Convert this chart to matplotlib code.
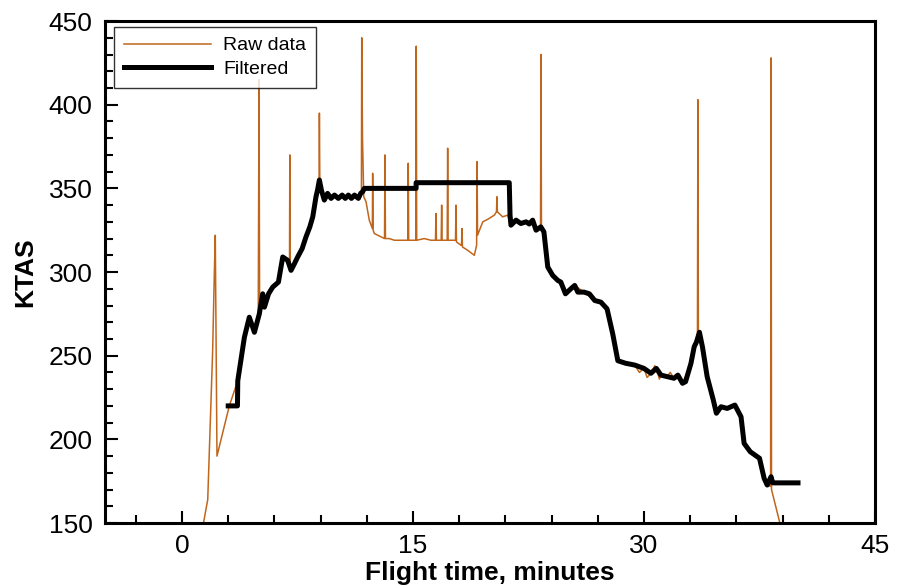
import numpy as np
import matplotlib
matplotlib.use("Agg")
import matplotlib.pyplot as plt
from matplotlib.ticker import MultipleLocator

plt.rcParams['font.family'] = ['Liberation Sans', 'DejaVu Sans']

# Raw airspeed record, spikes included (minutes, knots)
raw_t = [1.41, 1.67, 1.99, 2.10, 2.16, 2.22, 2.27, 3.07, 3.62, 4.05, 4.37, 4.70,
         4.95, 5.00, 5.04, 5.24, 5.35, 5.89, 6.26, 6.54, 6.86, 6.98, 7.00, 7.03,
         7.08, 7.51, 8.05, 8.49, 8.70, 8.90, 8.92, 8.95, 9.24, 9.68, 10.30, 10.97,
         11.40, 11.65, 11.67, 11.72, 11.80, 11.95, 12.16, 12.36, 12.38, 12.41, 12.49,
         12.92, 13.15, 13.18, 13.21, 13.46, 13.79, 14.66, 14.69, 14.72, 15.08, 15.18,
         15.21, 15.24, 15.73, 16.17, 16.46, 16.49, 16.52, 16.83, 16.86, 16.89, 17.22,
         17.25, 17.28, 17.68, 17.76, 17.79, 17.82, 18.12, 18.15, 18.18, 18.21, 18.55,
         18.98, 19.13, 19.16, 19.19, 19.53, 19.85, 20.28, 20.42, 20.45, 20.48, 20.82,
         21.15, 21.36, 21.69, 22.00, 22.34, 22.77, 22.99, 23.28, 23.31, 23.34, 23.50,
         23.75, 24.07, 24.40, 24.90, 25.25, 25.50, 26.10, 26.80, 27.20, 27.60, 27.97,
         28.30, 28.80, 29.40, 29.70, 30.00, 30.20, 30.45, 30.70, 30.80, 31.00, 31.10,
         31.50, 31.70, 31.95, 32.20, 32.50, 33.05, 33.26, 33.47, 33.50, 33.53, 33.60,
         33.80, 34.10, 34.50, 34.70, 35.00, 35.40, 35.90, 36.30, 36.50, 36.90, 37.50,
         37.80, 38.00, 38.22, 38.25, 38.28, 38.85, 39.00]
raw_v = [150.8, 164, 253, 300, 322, 250, 190, 220, 235, 261, 273, 264,
         272, 415, 275, 287, 279, 291, 294, 309, 307, 304, 370, 303,
         301, 309, 321, 333, 345, 354, 395, 352, 343, 346, 344, 345,
         344, 347, 440, 380, 345, 342, 331, 326, 359, 325, 323,
         321, 320, 370, 320, 320, 319, 319, 365, 319, 319, 319,
         435, 319, 320, 319, 319, 335, 319, 319, 340, 319, 319,
         374, 319, 319, 319, 340, 318, 316, 316, 326, 315, 313,
         310, 316, 366, 322, 330, 331.5, 334, 336, 345, 336, 333,
         334, 328, 331, 329, 330, 331, 325, 327, 430, 327, 324,
         303, 298, 295, 287, 290, 292, 288, 283, 282, 278, 263,
         247, 245.5, 244.4, 240, 242.4, 237, 239.5, 244, 242.4, 236, 238.4,
         237.5, 240, 236.5, 238.4, 233.5, 245.5, 255.4, 262, 403, 262, 262,
         255, 237.5, 223.5, 215.6, 219.5, 218.5, 220.5, 213.5, 197.6, 192.6, 188.7,
         176.7, 172.7, 172, 428, 170, 149, 140]

# Filtered airspeed
filt_t = [3.00, 3.60, 3.62, 4.05, 4.37, 4.70, 5.02, 5.24, 5.35, 5.62, 5.89, 6.26,
          6.54, 6.86, 7.08, 7.30, 7.51, 7.80, 8.05, 8.30, 8.49, 8.70, 8.80, 8.92,
          9.05, 9.24, 9.45, 9.68, 9.90, 10.15, 10.40, 10.60, 10.80, 11.00, 11.20,
          11.45, 11.60, 11.73, 11.84, 15.20, 15.20, 21.25, 21.30, 21.36, 21.69, 22.00,
          22.34, 22.55, 22.77, 22.99, 23.30, 23.50, 23.75, 24.07, 24.40, 24.60, 24.90,
          25.25, 25.50, 25.70, 26.10, 26.45, 26.80, 27.20, 27.60, 27.97, 28.30, 28.80,
          29.40, 30.00, 30.45, 30.80, 31.10, 31.50, 31.95, 32.20, 32.50, 32.70, 33.05,
          33.26, 33.40, 33.60, 33.80, 34.10, 34.50, 34.70, 35.00, 35.40, 35.90, 36.30,
          36.50, 36.90, 37.50, 37.80, 38.00, 38.25, 38.36, 40.00]
filt_v = [220, 220, 235, 261, 273, 264, 275, 287, 279, 287, 291, 294,
          309, 307, 301, 305, 309, 314, 321, 327, 333, 345, 349, 355,
          349, 343, 347, 344, 346, 344, 346, 344, 346, 344, 346,
          344, 347, 348, 350, 350, 353.4, 353.4, 334, 328, 331, 329,
          330, 328.7, 331, 325, 327, 324, 303, 298, 295, 294, 287,
          290, 292, 288, 288, 287, 283, 282, 278, 263, 247, 245.5,
          244.4, 242.4, 239.5, 242.4, 238.4, 237.5, 236.5, 238.4, 233.5, 234.5, 245.5,
          255.4, 258, 264, 255, 237.5, 223.5, 215.6, 219.5, 218.5, 220.5, 213.5,
          197.6, 192.6, 188.7, 176.7, 172.7, 177.7, 174, 174]

fig = plt.figure(figsize=(9.03, 5.88), dpi=100)
ax = fig.add_axes([0.1163, 0.1105, 0.8527, 0.8537])

ax.plot(raw_t, raw_v, color='#C0661C', lw=1.1, label='Raw data')
ax.plot(filt_t, filt_v, color='black', lw=3.6, label='Filtered')

ax.set_xlim(-5, 45)
ax.set_ylim(150, 450)
ax.xaxis.set_major_locator(MultipleLocator(15))
ax.xaxis.set_minor_locator(MultipleLocator(3))
ax.yaxis.set_major_locator(MultipleLocator(50))
ax.yaxis.set_minor_locator(MultipleLocator(10))
ax.tick_params(which='both', direction='in', top=False, right=False, width=1.5)
ax.tick_params(which='major', length=9, labelsize=19)
ax.tick_params(which='minor', length=5.5)
ax.tick_params(axis='x', pad=8)
ax.tick_params(axis='y', pad=9)
for sp in ax.spines.values():
    sp.set_linewidth(2.2)

ax.set_xlabel('Flight time, minutes', fontsize=19, fontweight='bold', labelpad=2)
ax.set_ylabel('KTAS', fontsize=19, fontweight='bold', labelpad=8)

leg = ax.legend(loc='upper left', bbox_to_anchor=(0.012, 0.988), fontsize=14,
                frameon=True, fancybox=False, edgecolor='black', handlelength=4.5,
                handletextpad=0.6, borderpad=0.5, labelspacing=0.3, borderaxespad=0)
leg.get_frame().set_linewidth(1.0)

fig.savefig('out.png', dpi=100)
